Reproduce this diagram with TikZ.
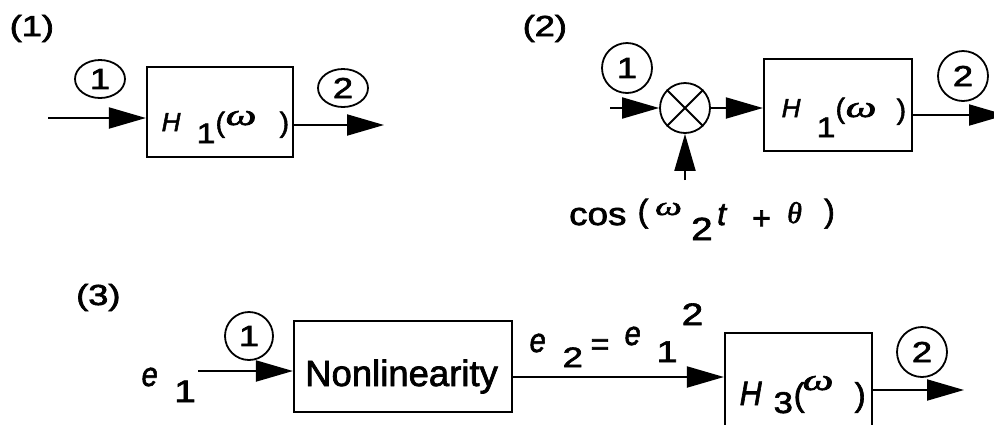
\documentclass[tikz,border=0pt]{standalone}
\usepackage{fontspec}
\setmainfont{Liberation Sans}[FakeBold=2]
\newfontfamily\greekfont{Liberation Serif}[FakeBold=2]
\usetikzlibrary{arrows.meta,shapes.geometric}
% place a piece of a label at an offset (right, up) from the label origin
\newcommand\lblpart[3]{\rlap{\hspace*{#1pt}\raisebox{#2pt}{#3}}}
\newcommand\fsz[1]{\fontsize{#1}{#1}\selectfont}
% widen (or narrow) a glyph run horizontally
\newcommand\hx[2]{\scalebox{#1}[1]{#2}}
\newcommand\omg{{\greekfont\itshape ω}}
\newcommand\tht{{\greekfont\itshape θ}}
\begin{document}
\begin{tikzpicture}[x=1pt,y=-1pt,
  blk/.style={draw, line width=2.2pt, rectangle, inner sep=0pt},
  tag/.style={draw, line width=1.8pt, circle, minimum size=50pt, inner sep=0pt, font=\fsz{29}},
  flat/.style={draw, line width=1.8pt, ellipse, minimum width=50pt, minimum height=38pt, inner sep=0pt, font=\fsz{29}},
  sig/.style={line width=2pt, -{Triangle[length=37pt,width=21pt]}},
  wire/.style={line width=2pt},
  txt/.style={inner sep=0pt, anchor=base west}]
\useasboundingbox (0,0) rectangle (994,424);

% ---------- (1) single filter ----------
\node[txt, font=\fsz{29}] (t1) at (9.5,36) {\hx{1.25}{(1)}};
\node[blk, minimum width=146pt, minimum height=90pt] (b1) at (220,112) {};
\node[txt, font=\fsz{26}] (h1) at (161,131)
  {\lblpart{0}{0}{\itshape H}\lblpart{35}{-12}{\fsz{28}\hx{1.2}{1}}\lblpart{54}{-1}{\fsz{28}(}\lblpart{64}{6}{\fsz{30}\hx{1.45}{\omg}}\lblpart{118}{-1}{\fsz{28})}};
\node[flat] (p1a) at (100,79) {\hx{1.25}{1}};
\node[flat] (p1b) at (343,88) {\hx{1.25}{2}};
\coordinate (a1) at (48,118);
\draw[sig] (a1) -- (a1 -| b1.west);
\coordinate (z1) at (384,125);
\draw[sig] (z1 -| b1.east) -- (z1);

% ---------- (2) mixer followed by filter ----------
\node[txt, font=\fsz{29}] (t2) at (522.5,36) {\hx{1.25}{(2)}};
\node[blk, minimum width=148pt, minimum height=92pt] (b2) at (838,105) {};
\node[txt, font=\fsz{26}] (h2) at (781,117)
  {\lblpart{0}{0}{\itshape H}\lblpart{35}{-20}{\fsz{28}\hx{1.2}{1}}\lblpart{54}{-1}{\fsz{28}(}\lblpart{64}{0}{\fsz{30}\hx{1.45}{\omg}}\lblpart{115}{-2}{\fsz{28})}};
\node[tag] (p2a) at (627,68) {\hx{1.25}{1}};
\node[tag] (p2b) at (963,76) {\hx{1.25}{2}};
\node[draw, circle, line width=1.8pt, minimum size=50pt, inner sep=0pt] (mux) at (685,108) {};
\draw[wire] (mux.north east) -- (mux.south west) (mux.north west) -- (mux.south east);
\coordinate (a2) at (610,108);
\draw[sig] (a2) -- (mux.west);
\draw[sig] (mux.east) -- (mux.east -| b2.west);
\coordinate (z2) at (1006,115);
\draw[sig] (z2 -| b2.east) -- (z2);
\coordinate (lo) at (685,180);
\draw[sig] (lo) -- (mux.south);
\node[txt, font=\fsz{32}] (cs) at (568.5,225)
  {\lblpart{0}{0}{\hx{1.15}{cos}}\lblpart{68.5}{3}{(}\lblpart{86}{10}{\fsz{26}\hx{1.45}{\omg}}\lblpart{122}{-15}{\hx{1.2}{2}}\lblpart{148}{0}{\itshape t}\lblpart{183}{-4}{+}\lblpart{218}{2}{\fsz{30}\tht}\lblpart{255}{3}{)}};

% ---------- (3) nonlinearity followed by filter ----------
\node[txt, font=\fsz{29}] (t3) at (76,305) {\hx{1.25}{(3)}};
\node[blk, minimum width=218pt, minimum height=91pt] (nl) at (403,366.5) {};
\node[txt, font=\fsz{36.5}] (nlt) at (305,386) {Nonlinearity};
\node[blk, minimum width=147pt, minimum height=95pt] (b3) at (798.5,380.5) {};
\node[txt, font=\fsz{34}] (h3) at (739,405)
  {\lblpart{0}{0}{\hx{0.9}{\itshape H}}\lblpart{34}{-8}{\fsz{30}\hx{1.15}{3}}\lblpart{54}{-1}{\fsz{33}(}\lblpart{63}{15}{\fsz{30}\hx{1.45}{\omg}}\lblpart{115}{-1}{\fsz{33})}};
\node[tag, minimum size=48pt] (p3a) at (249,336) {\hx{1.25}{1}};
\node[tag] (p3b) at (922,352) {\hx{1.25}{2}};
\node[txt, font=\fsz{34}] (e1) at (141,386)
  {\lblpart{0}{0}{\hx{0.85}{\itshape e}}\lblpart{32.5}{-16}{\fsz{31}\hx{1.25}{1}}};
\node[txt, font=\fsz{34}] (e2) at (529,352)
  {\lblpart{0}{0}{\hx{0.85}{\itshape e}}\lblpart{33}{-15}{\fsz{28}\hx{1.3}{2}}\lblpart{61}{-3}{\fsz{32}=}\lblpart{95}{7}{\hx{0.85}{\itshape e}}\lblpart{127}{-10}{\fsz{30}\hx{1.25}{1}}\lblpart{152}{27}{\fsz{31}\hx{1.25}{2}}};
\coordinate (a3) at (198,371);
\draw[sig] (a3) -- (a3 -| nl.west);
\coordinate (m3) at (600,377);
\draw[sig] (nl.east |- m3) -- (b3.west |- m3);
\coordinate (z3) at (964,390);
\draw[sig] (z3 -| b3.east) -- (z3);
\end{tikzpicture}
\end{document}
